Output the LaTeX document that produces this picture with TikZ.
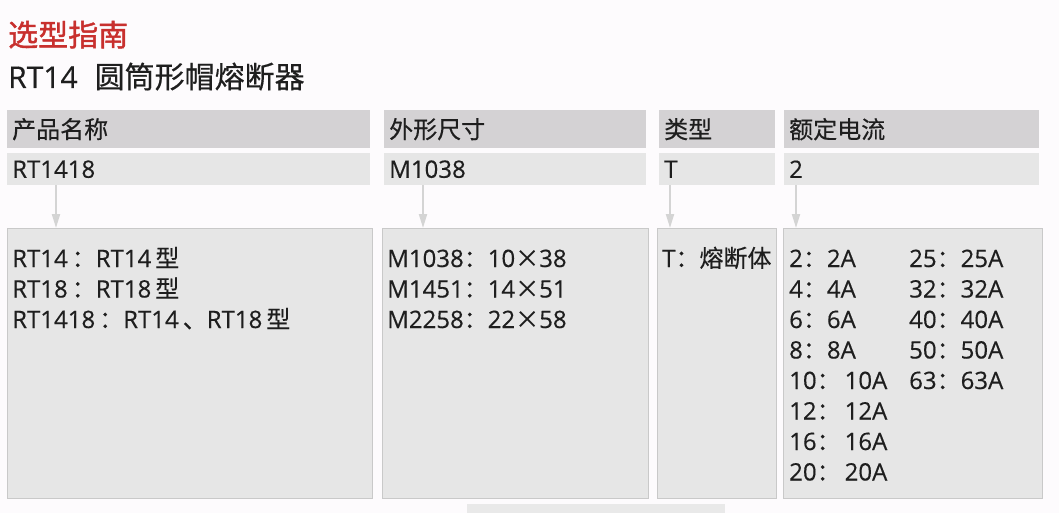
\documentclass[tikz,border=0pt]{standalone}
\usepackage{fontspec}
\setmainfont{Open Sans}[FakeBold=0.4]
\newfontfamily\cjkfont{Noto Sans CJK SC}[FakeBold=0.4]
\newfontfamily\cjkbold{Noto Sans CJK SC}[FakeBold=1.4]
\newcommand{\cj}[1]{{\cjkfont #1}}
\usetikzlibrary{arrows.meta}

\definecolor{titlered}{HTML}{C8302E}
\definecolor{headgray}{HTML}{D4D2D4}
\definecolor{valgray}{HTML}{E6E6E6}
\definecolor{boxgray}{HTML}{E6E6E6}
\definecolor{boxline}{HTML}{C9C9C9}
\definecolor{arrgray}{HTML}{D4D4D4}
\definecolor{inkgray}{HTML}{1E1E1E}
\definecolor{pagebg}{HTML}{FDFBFD}

\begin{document}
\begin{tikzpicture}[x=1pt, y=-1pt, text=inkgray,
    headbox/.style = {fill=headgray, anchor=north west, inner xsep=5pt, inner ysep=0pt,
                      minimum height=38pt, align=left, font=\cjkfont\fontsize{24}{24}\selectfont},
    valbox/.style  = {fill=valgray, anchor=north west, inner xsep=5pt, inner ysep=0pt,
                      minimum height=32pt, align=left, font=\fontsize{24}{24}\selectfont},
    detbox/.style  = {fill=boxgray, draw=boxline, line width=1.2pt, anchor=north west,
                      inner sep=0pt, minimum height=270pt},
    dettext/.style = {anchor=base west, inner sep=0pt, align=left,
                      font=\fontsize{24}{30.5}\selectfont},
    downarr/.style = {draw=arrgray, line width=2pt, -{Triangle[width=8pt,length=14pt]}}]
    % page and margins
    \fill[pagebg] (0,0) rectangle (1059,513);
    \useasboundingbox (0,0) rectangle (1059,513);

    % titles
    \node[anchor=base west, inner sep=0pt, text=titlered, font=\cjkbold\fontsize{30}{30}\selectfont]
        (title) at (8,46) {选型指南};
    \node[anchor=base west, inner sep=0pt, font=\fontsize{30}{30}\selectfont]
        (subtitle) at (8,88) {RT14\hspace{17pt}\cj{圆筒形帽熔断器}};

    % header row
    \node[headbox, text width=353pt] (head1) at (7,110) {产品名称};
    \node[headbox, text width=252pt] (head2) at (384,110) {外形尺寸};
    \node[headbox, text width=106pt] (head3) at (659,110) {类型};
    \node[headbox, text width=245pt] (head4) at (784,110) {额定电流};

    % value row
    \node[valbox, text width=353pt] (val1) at (7,153) {RT1418};
    \node[valbox, text width=252pt] (val2) at (384,153) {M1038};
    \node[valbox, text width=106pt] (val3) at (659,153) {T};
    \node[valbox, text width=245pt] (val4) at (784,153) {2};

    % detail boxes
    \node[detbox, minimum width=365pt] (det1) at (7,228) {};
    \node[detbox, minimum width=266pt] (det2) at (382,228) {};
    \node[detbox, minimum width=119pt] (det3) at (657,228) {};
    \node[detbox, minimum width=259pt] (det4) at (783,228) {};

    % arrows
    \coordinate (a1) at (56,0);
    \coordinate (a2) at (423,0);
    \coordinate (a3) at (670,0);
    \coordinate (a4) at (796,0);
    \draw[downarr] (val1.south -| a1) -- (det1.north -| a1);
    \draw[downarr] (val2.south -| a2) -- (det2.north -| a2);
    \draw[downarr] (val3.south -| a3) -- (det3.north -| a3);
    \draw[downarr] (val4.south -| a4) -- (det4.north -| a4);

    % detail texts (anchored on the baseline of their last line)
    \node[dettext] (txt1) at (12,328)
        {RT14\,\cj{：}RT14\,\cj{型}\\RT18\,\cj{：}RT18\,\cj{型}\\RT1418\,\cj{：}RT14\,\cj{、}RT18\,\cj{型}};
    \node[dettext] (txt2) at (387,328)
        {M1038\cj{：}10\cj{×}38\\M1451\cj{：}14\cj{×}51\\M2258\cj{：}22\cj{×}58};
    \node[dettext] (txt3) at (662,267) {T\cj{：熔断体}};
    \node[dettext] (txt4a) at (789,480.5)
        {2\cj{：}2A\\4\cj{：}4A\\6\cj{：}6A\\8\cj{：}8A\\10\cj{：}\,10A\\12\cj{：}\,12A\\16\cj{：}\,16A\\20\cj{：}\,20A};
    \node[dettext] (txt4b) at (909,389)
        {25\cj{：}25A\\32\cj{：}32A\\40\cj{：}40A\\50\cj{：}50A\\63\cj{：}63A};

    % cut-off box at the lower edge
    \fill[boxgray!90!white] (467,504) rectangle (725,513);
\end{tikzpicture}
\end{document}
